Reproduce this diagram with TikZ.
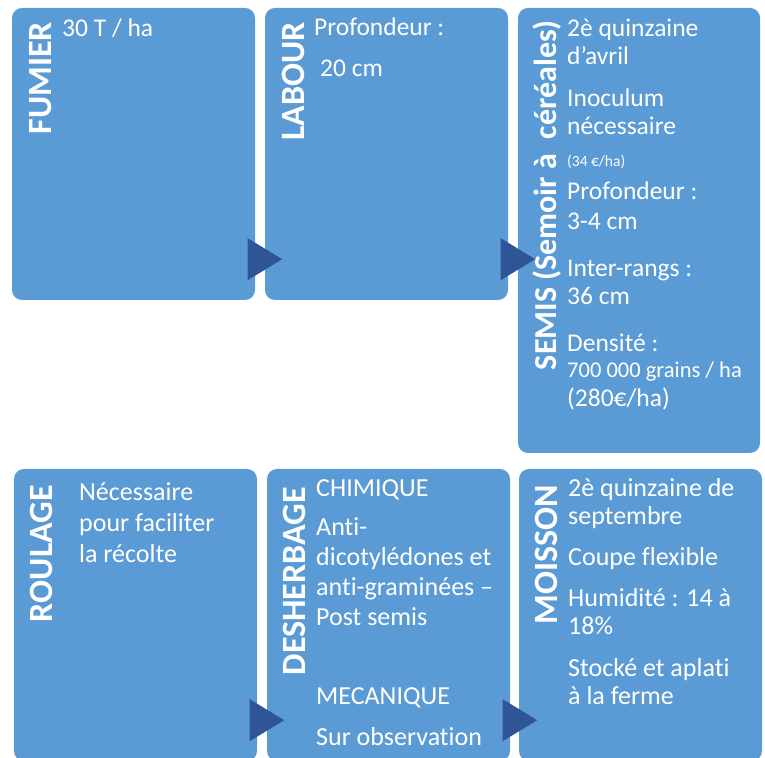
\documentclass[tikz,border=0pt]{standalone}
\usepackage{fontspec}
\setmainfont{Carlito}[Ligatures=NoCommon]
\usepackage{xcolor}
\usepackage{tikz}
\usetikzlibrary{calc}

\definecolor{boitebleu}{RGB}{91,155,213}
\definecolor{flechebleu}{RGB}{47,85,151}

\begin{document}
\begin{tikzpicture}[x=1pt,y=1pt,
		boite/.style={fill=boitebleu, rounded corners=10pt, minimum width=243pt, minimum height=292pt, inner sep=0pt},
		titre/.style={rotate=90, anchor=base east, inner sep=0pt, text=white, font=\fontsize{34}{34}\selectfont\bfseries},
		texte/.style={anchor=base west, inner sep=0pt, text=white, align=left, font=\fontsize{25.5}{28}\selectfont},
		fleche/.style={fill=flechebleu}]

		% Rahmen
		\clip (0,0) rectangle (765,757);

		% Boites
		\node[boite] (fumier) at (133.5,603) {};
		\node[boite] (labour) at (386.5,603) {};
		\node[boite, minimum width=242pt, minimum height=445pt] (semis) at (639,526.5) {};
		\node[boite] (roulage) at (135.5,142) {};
		\node[boite] (desherbage) at (388.5,142) {};
		\node[boite] (moisson) at (640.5,142) {};

		% Titres
		\node[titre] (t-fumier) at (51,735) {FUMIER};
		\node[titre] (t-labour) at (304,735) {LABOUR};
		\node[titre, font=\fontsize{32}{32}\selectfont\bfseries] (t-semis) at (556,737) {SEMIS (Semoir à\ \ céréales)};
		\node[titre] (t-roulage) at (52,272) {ROULAGE};
		\node[titre] (t-desherbage) at (305,270) {DESHERBAGE};
		\node[titre] (t-moisson) at (557,272) {MOISSON};

		% Textes (base = derniere ligne)
		\node[texte] (x-fumier) at (62,720) {30 T / ha};
		\node[texte] (x-labour1) at (314,721) {Profondeur :};
		\node[texte] (x-labour2) at (320,680) {20 cm};
		\node[texte] (x-semis1) at (567,692) {2è quinzaine\\d’avril};
		\node[texte] (x-semis2) at (567,622) {Inoculum\\nécessaire};
		\node[texte, font=\fontsize{15.5}{16}\selectfont] (x-semis3) at (567,590) {(34 €/ha)};
		\node[texte, font=\fontsize{25.5}{30}\selectfont] (x-semis4) at (567,527) {Profondeur :\\3-4 cm};
		\node[texte] (x-semis5) at (567,452) {Inter-rangs :\\36 cm};
		\node[texte] (x-semis6) at (567,405) {Densité :};
		\node[texte, font=\fontsize{22.5}{26}\selectfont] (x-semis7) at (567,379) {700 000 grains / ha};
		\node[texte] (x-semis8) at (567,350) {(280€/ha)};
		\node[texte, font=\fontsize{26}{31}\selectfont] (x-roulage) at (79,194) {Nécessaire\\pour faciliter\\la récolte};
		\node[texte, font=\fontsize{26}{31}\selectfont] (x-desherbage1) at (316,260) {CHIMIQUE};
		\node[texte, font=\fontsize{26}{30}\selectfont] (x-desherbage2) at (316,131) {Anti-\\dicotylédones et\\anti-graminées –\\Post semis};
		\node[texte, font=\fontsize{26}{31}\selectfont] (x-desherbage3) at (316,52) {MECANIQUE};
		\node[texte, font=\fontsize{26}{31}\selectfont] (x-desherbage4) at (316,12) {Sur observation};
		\node[texte, font=\fontsize{26}{28}\selectfont] (x-moisson1) at (568,232) {2è quinzaine de\\septembre};
		\node[texte, font=\fontsize{26}{28}\selectfont] (x-moisson2) at (568,191) {Coupe flexible};
		\node[texte, font=\fontsize{26}{28}\selectfont] (x-moisson3) at (568,122) {Humidité : 14 à\\18\%};
		\node[texte, font=\fontsize{26}{28}\selectfont] (x-moisson4) at (568,52) {Stocké et aplati\\à la ferme};

		% Fleches
		\foreach \a in {fumier,labour,roulage,desherbage}
			\fill[fleche] ($(\a.south east)+(-7.5,20)$) -- ($(\a.south east)+(-7.5,62)$) -- ($(\a.south east)+(27,41)$) -- cycle;
	\end{tikzpicture}
\end{document}
